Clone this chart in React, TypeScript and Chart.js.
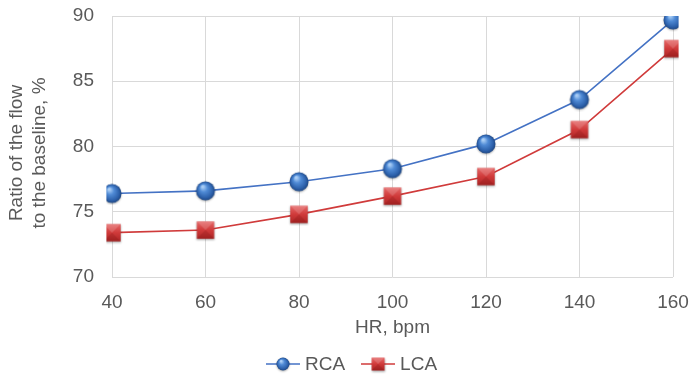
import React, { useEffect, useRef } from "react";
import { Chart, registerables } from "chart.js";

Chart.register(...registerables);

const heartRates = ["40", "60", "80", "100", "120", "140", "160"];
const rcaFlow = [76.4, 76.6, 77.3, 78.3, 80.2, 83.6, 89.7];
const lcaFlow = [73.4, 73.6, 74.8, 76.2, 77.7, 81.3, 87.5];
const yTicks = [70, 75, 80, 85, 90];
const yTitleLines = ["Ratio of the flow", "to the baseline, %"];

const TEXT = "#595959";
const GRID = "#d9d9d9";
const BLUE_LINE = "#4472c4";
const RED_LINE = "#d03b3b";
const FONT = "'Liberation Sans', Arial, sans-serif";
const FONT_SIZE = 19;

function drawSphere(ctx: CanvasRenderingContext2D, cx: number, cy: number, r: number) {
  ctx.save();
  ctx.shadowColor = "rgba(0,0,0,0.3)";
  ctx.shadowBlur = 2;
  ctx.shadowOffsetY = 1;
  const g = ctx.createRadialGradient(cx - r * 0.3, cy - r * 0.45, r * 0.1, cx, cy, r);
  g.addColorStop(0, "#a9cdf5");
  g.addColorStop(0.35, "#508bd6");
  g.addColorStop(0.8, "#2c60aa");
  g.addColorStop(1, "#1f4782");
  ctx.fillStyle = g;
  ctx.beginPath();
  ctx.arc(cx, cy, r, 0, Math.PI * 2);
  ctx.fill();
  ctx.restore();
}

function drawBox(ctx: CanvasRenderingContext2D, cx: number, cy: number, h: number) {
  ctx.save();
  ctx.shadowColor = "rgba(0,0,0,0.3)";
  ctx.shadowBlur = 2;
  ctx.shadowOffsetY = 1;
  const g = ctx.createLinearGradient(cx, cy - h, cx, cy + h);
  g.addColorStop(0, "#e66a6a");
  g.addColorStop(0.5, "#d03a3a");
  g.addColorStop(1, "#ad2626");
  ctx.fillStyle = g;
  ctx.fillRect(cx - h, cy - h, h * 2, h * 2);
  ctx.restore();
  // bevelled facets
  ctx.save();
  ctx.fillStyle = "rgba(255,255,255,0.15)";
  ctx.beginPath();
  ctx.moveTo(cx - h, cy - h);
  ctx.lineTo(cx + h, cy - h);
  ctx.lineTo(cx, cy);
  ctx.closePath();
  ctx.fill();
  ctx.fillStyle = "rgba(90,0,0,0.15)";
  ctx.beginPath();
  ctx.moveTo(cx - h, cy + h);
  ctx.lineTo(cx + h, cy + h);
  ctx.lineTo(cx, cy);
  ctx.closePath();
  ctx.fill();
  ctx.restore();
}

function markerCanvas(kind: "sphere" | "box", legendLine?: string): HTMLCanvasElement {
  const w = legendLine ? 34 : 24;
  const h = 24;
  const c = document.createElement("canvas");
  c.width = w;
  c.height = h;
  const ctx = c.getContext("2d")!;
  if (legendLine) {
    ctx.strokeStyle = legendLine;
    ctx.lineWidth = 1.5;
    ctx.beginPath();
    ctx.moveTo(0, h / 2);
    ctx.lineTo(w, h / 2);
    ctx.stroke();
  }
  if (kind === "sphere") drawSphere(ctx, w / 2, h / 2, legendLine ? 6.5 : 9.5);
  else drawBox(ctx, w / 2, h / 2, legendLine ? 6.5 : 8.7);
  return c;
}

// Bottom legend: line + marker swatch followed by the series name
const seriesLegend = {
  id: "seriesLegend",
  afterDraw(chart: any, _args: any, opts: any) {
    const { ctx } = chart;
    const icons: HTMLCanvasElement[] = opts.icons;
    ctx.save();
    ctx.font = `${FONT_SIZE}px ${FONT}`;
    ctx.fillStyle = TEXT;
    ctx.textBaseline = "middle";
    let x = opts.x;
    const y = opts.y;
    chart.data.datasets.forEach((ds: any, i: number) => {
      const icon = icons[i];
      ctx.drawImage(icon, x, y - icon.height / 2);
      x += icon.width + 5;
      ctx.fillText(ds.label, x, y + 1);
      x += ctx.measureText(ds.label).width + 16;
    });
    ctx.restore();
  },
};

// Two-line rotated title for the value axis
const valueAxisTitle = {
  id: "valueAxisTitle",
  afterDraw(chart: any, _args: any, opts: any) {
    const { ctx } = chart;
    ctx.save();
    ctx.font = `${FONT_SIZE}px ${FONT}`;
    ctx.fillStyle = TEXT;
    ctx.textAlign = "center";
    ctx.textBaseline = "middle";
    ctx.translate(opts.x, opts.y);
    ctx.rotate(-Math.PI / 2);
    yTitleLines.forEach((line, i) => ctx.fillText(line, 0, i * opts.lineGap));
    ctx.restore();
  },
};

export default function App() {
  const ref = useRef<HTMLCanvasElement>(null);

  useEffect(() => {
    document.body.style.margin = "0";
    const rcaPoint = markerCanvas("sphere");
    const lcaPoint = markerCanvas("box");
    const rcaLegend = markerCanvas("sphere", BLUE_LINE);
    const lcaLegend = markerCanvas("box", RED_LINE);

    const chart = new Chart(ref.current!, {
      type: "line",
      data: {
        labels: heartRates,
        datasets: [
          {
            label: "RCA",
            data: rcaFlow,
            borderColor: BLUE_LINE,
            borderWidth: 1.6,
            pointStyle: rcaPoint,
            tension: 0,
          },
          {
            label: "LCA",
            data: lcaFlow,
            borderColor: RED_LINE,
            borderWidth: 1.6,
            pointStyle: lcaPoint,
            tension: 0,
          },
        ],
      },
      plugins: [seriesLegend, valueAxisTitle],
      options: {
        responsive: false,
        animation: false,
        layout: { padding: { left: 6, right: 18, top: 16, bottom: 39 } },
        plugins: {
          tooltip: { enabled: false },
          legend: { display: false },
          seriesLegend: { icons: [rcaLegend, lcaLegend], x: 266, y: 364 },
          valueAxisTitle: { x: 17, y: 153, lineGap: 23 },
        } as any,
        scales: {
          x: {
            offset: false,
            afterFit: (axis: any) => {
              axis.height = 62;
              axis.paddingLeft = 0;
              axis.paddingRight = 0;
            },
            grid: { color: GRID, lineWidth: 1, drawTicks: false },
            border: { display: false },
            ticks: { color: TEXT, font: { family: FONT, size: FONT_SIZE }, padding: 14, maxRotation: 0 },
            title: {
              display: true,
              text: "HR, bpm",
              color: TEXT,
              font: { family: FONT, size: FONT_SIZE },
              padding: { top: 0, bottom: 0 },
            },
          },
          y: {
            min: yTicks[0],
            max: yTicks[yTicks.length - 1],
            afterBuildTicks: (axis: any) => {
              axis.ticks = yTicks.map((v) => ({ value: v }));
            },
            afterFit: (axis: any) => {
              axis.width = 106;
              axis.paddingTop = 0;
              axis.paddingBottom = 0;
            },
            grid: { color: GRID, lineWidth: 1, drawTicks: false },
            border: { display: false },
            ticks: { color: TEXT, font: { family: FONT, size: FONT_SIZE }, padding: 18 },
          },
        },
      },
    });
    return () => chart.destroy();
  }, []);

  return (
    <div style={{ width: 691, height: 378, background: "#fff" }}>
      <canvas ref={ref} width={691} height={378} />
    </div>
  );
}
